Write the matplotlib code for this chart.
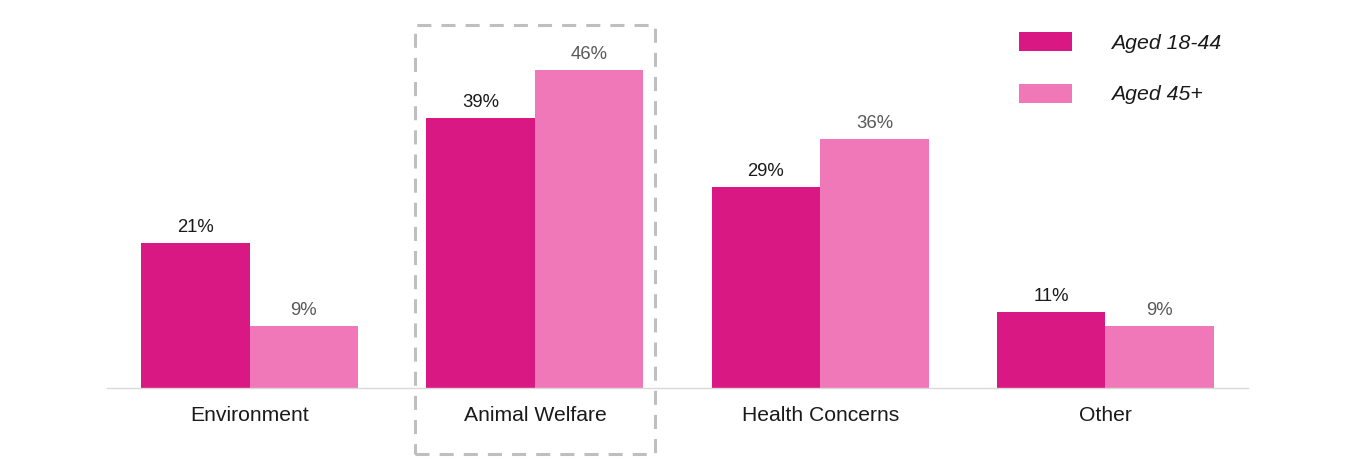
import matplotlib
matplotlib.use("Agg")
import matplotlib.pyplot as plt
import numpy as np
from matplotlib.patches import Rectangle
from matplotlib.transforms import blended_transform_factory

plt.rcParams['font.family'] = ['Liberation Sans', 'DejaVu Sans']

categories = ["Environment", "Animal Welfare", "Health Concerns", "Other"]
series_names = ["Aged 18-44", "Aged 45+"]
young = [21, 39, 29, 11]
older = [9, 46, 36, 9]

dark = "#DA1884"
light = "#F178B8"

fig = plt.figure(figsize=(13.66, 4.71), dpi=100)
ax = fig.add_axes([107/1366, 83/471, (1248-107)/1366, (388-20)/471])

x = np.arange(len(categories))
w = 0.38
b1 = ax.bar(x - w/2, young, w, color=dark, label=series_names[0])
b2 = ax.bar(x + w/2, older, w, color=light, label=series_names[1])

for rect, v in zip(b1, young):
    ax.annotate(f"{v}%", (rect.get_x() + rect.get_width()/2, rect.get_height()),
                xytext=(0, 5), textcoords="offset points", ha="center", va="bottom",
                fontsize=13.3, color="#1a1a1a")
for rect, v in zip(b2, older):
    ax.annotate(f"{v}%", (rect.get_x() + rect.get_width()/2, rect.get_height()),
                xytext=(0, 5), textcoords="offset points", ha="center", va="bottom",
                fontsize=13.3, color="#595959")

ax.set_xlim(-0.5, 3.5)
ax.set_ylim(0, 53.2)
ax.set_xticks(x)
ax.set_xticklabels(categories, fontsize=15.2, color="#1a1a1a")
ax.tick_params(axis="x", length=0, pad=13)
ax.set_yticks([])
for s in ["top", "right", "left"]:
    ax.spines[s].set_visible(False)
ax.spines["bottom"].set_color("#D9D9D9")
ax.spines["bottom"].set_linewidth(1)

trans = blended_transform_factory(ax.transData, fig.transFigure)
rect = Rectangle((1 - 0.42, 1 - 454/471), 0.84, (454 - 25)/471, transform=trans,
                 fill=False, edgecolor="#BFBFBF", linewidth=2.2,
                 linestyle=(0, (4.6, 3.3)), clip_on=False)
fig.add_artist(rect)

leg = fig.legend(handles=[b1, b2], labels=series_names, loc="upper left",
                 bbox_to_anchor=(1019/1366, 1 - 32/471), frameon=False,
                 prop={"style": "italic", "size": 15.3}, handlelength=2.5,
                 handleheight=1.0, handletextpad=1.85, labelspacing=1.45,
                 borderpad=0, borderaxespad=0)
for t in leg.get_texts():
    t.set_color("#1a1a1a")

fig.savefig("out.png", dpi=100)
